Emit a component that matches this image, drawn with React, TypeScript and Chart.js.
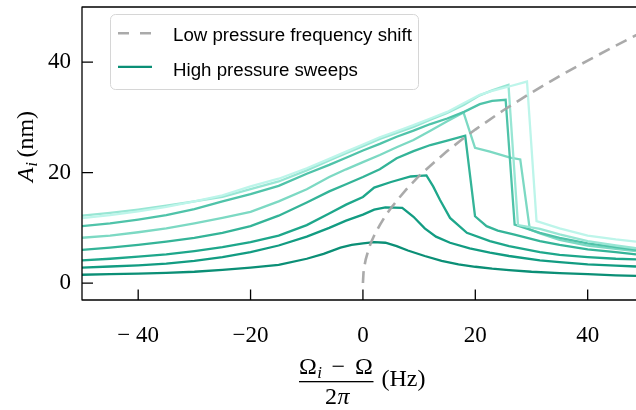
import React, { useEffect, useRef } from 'react';
import { Chart, registerables } from 'chart.js';

Chart.register(...registerables);

// ---- axes ----
const X_MIN = -50;
const X_MAX = 48.6;
const Y_MIN = -3.07;
const Y_MAX = 50;
const X_TICKS = [-40, -20, 0, 20, 40];
const X_TICK_LABELS = ['\u2212 40', '\u221220', '0', '20', '40'];
const Y_TICKS = [0, 20, 40];
const Y_TICK_LABELS = ['0', '20', '40'];

// ---- low pressure frequency shift (dashed) ----
const SHIFT_X = [0, 0.1, 0.25, 0.5, 1, 1.5, 2, 3, 4, 5, 6.5, 8, 10, 12.5, 15, 17.5, 20, 25, 30, 35, 40, 45, 50];
const SHIFT_Y = [0, 1.9, 3.0, 4.3, 6.1, 7.5, 8.6, 10.5, 12.2, 13.6, 15.5, 17.3, 19.4, 21.7, 23.9, 25.9, 27.8, 31.3, 34.5, 37.5, 40.3, 43.0, 45.6];

// ---- high pressure sweeps ----
const SWEEP1_X = [-50, -45, -40, -35, -30, -25, -20, -15, -10, -7, -4, -2, 0, 2, 4, 6, 8, 11, 14, 17, 20, 23, 26, 30, 35, 40, 45, 48.6];
const SWEEP1_Y = [1.5, 1.6, 1.7, 1.85, 2.05, 2.4, 2.8, 3.3, 4.4, 5.3, 6.4, 6.9, 7.2, 7.4, 7.3, 6.7, 5.9, 4.9, 4.0, 3.4, 2.95, 2.6, 2.35, 2.05, 1.8, 1.6, 1.4, 1.3];

const SWEEP2_X = [-50, -45, -40, -35, -30, -25, -20, -15, -10, -6, -3, 0, 2, 4, 7, 9, 11, 13, 15.5, 19, 22.6, 26, 31.5, 35, 40, 45, 48.6];
const SWEEP2_Y = [2.8, 3.0, 3.2, 3.5, 4.0, 4.7, 5.6, 6.8, 8.4, 10.0, 11.3, 12.4, 13.3, 13.7, 13.6, 12.0, 9.9, 8.4, 7.3, 6.3, 5.5, 4.9, 4.1, 3.8, 3.4, 3.15, 3.0];

const SWEEP3_X = [-50, -45, -40, -35, -30, -25, -20, -15, -10, -6, -3, 0, 2, 5, 8.5, 11.3, 12.5, 13.7, 15.5, 18.5, 22.6, 26, 31.5, 35, 40, 45, 48.6];
const SWEEP3_Y = [4.1, 4.4, 4.8, 5.2, 5.8, 6.5, 7.4, 8.6, 10.5, 12.6, 14.2, 15.6, 17.3, 18.3, 19.3, 19.5, 17.5, 15.1, 11.8, 9.1, 7.6, 6.7, 5.6, 5.1, 4.7, 4.4, 4.3];

const SWEEP4_X = [-50, -45, -40, -35, -30, -25, -20, -15, -10, -6, -3, 0, 3, 6, 9, 12, 15, 18.2, 19.95, 22, 24, 26.8, 31.5, 35, 40, 45, 48.6];
const SWEEP4_Y = [6.0, 6.4, 6.9, 7.5, 8.2, 9.1, 10.3, 12.2, 14.6, 16.6, 17.9, 19.2, 20.6, 22.6, 23.9, 25.0, 25.8, 26.7, 12.1, 10.3, 9.5, 8.8, 7.6, 6.9, 6.1, 5.6, 5.2];

const SWEEP5_X = [-50, -45, -40, -35, -30, -25, -20, -15, -10, -6, -3, 0, 3, 6, 9, 12, 15, 17.9, 19.95, 22.6, 26.2, 28, 29.7, 31.5, 35, 40, 45, 48.6];
const SWEEP5_Y = [8.2, 8.6, 9.2, 9.9, 10.8, 11.8, 12.9, 14.8, 17.0, 19.2, 20.6, 21.9, 23.2, 24.6, 25.9, 27.6, 29.3, 30.9, 24.5, 23.8, 22.7, 22.4, 9.7, 9.0, 7.8, 6.8, 6.2, 5.8];

const SWEEP6_X = [-50, -45, -40, -35, -30, -25, -20, -15, -10, -6, -3, 0, 3, 6, 9, 12, 15, 18, 20.8, 23, 25.4, 27.0, 31.5, 35, 40, 45, 48.6];
const SWEEP6_Y = [10.3, 10.8, 11.5, 12.3, 13.4, 14.8, 16.1, 17.6, 19.8, 21.4, 22.7, 24.0, 25.2, 26.5, 27.6, 28.8, 29.8, 31.0, 32.4, 33.0, 33.2, 10.6, 9.1, 8.2, 7.2, 6.5, 6.0];

const SWEEP7_X = [-50, -45, -40, -35, -30, -25, -20, -15, -10, -6, -3, 0, 3, 6, 9, 12, 15, 18, 20.8, 23, 25.9, 27.6, 31.5, 35, 40, 45, 48.6];
const SWEEP7_Y = [12.2, 12.7, 13.3, 14.0, 14.8, 15.6, 17.0, 18.4, 20.4, 22.2, 23.5, 24.8, 26.1, 27.2, 28.3, 29.6, 30.8, 32.3, 34.0, 34.9, 35.9, 10.5, 9.8, 8.8, 7.6, 6.8, 6.3];

const SWEEP8_X = [-50, -45, -40, -35, -30, -25, -20, -15, -10, -6, -3, 0, 3, 6, 9, 12, 15, 18, 20.8, 23, 26, 29.2, 30.9, 35, 40, 45, 48.6];
const SWEEP8_Y = [11.75, 12.3, 13.0, 13.8, 14.8, 15.9, 17.5, 18.9, 20.8, 22.5, 23.8, 25.1, 26.4, 27.5, 28.6, 29.8, 31.0, 32.6, 34.1, 34.8, 35.6, 36.5, 11.2, 9.9, 8.6, 7.9, 7.5];

const SWEEP_COLORS = ['#0b8f76', '#129c82', '#1ea78b', '#34b498', '#7cd9c3', '#4fc3a9', '#98e6d4', '#bdf5ea'];
const SHIFT_COLOR = 'rgba(165,165,165,0.95)';
const LEGEND_LABELS = ['Low pressure frequency shift', 'High pressure sweeps'];

const zip = (xs: number[], ys: number[]) => xs.map((x, i) => ({ x, y: ys[i] }));

const SERIF = '"Liberation Serif", "DejaVu Serif", serif';
const SANS = '"Liberation Sans", Arial, sans-serif';

const decorPlugin = {
  id: 'decor',
  afterDraw(chart: any) {
    const { ctx, chartArea: a, scales } = chart;
    const xs = scales.x;
    const ys = scales.y;
    ctx.save();
    // spines
    ctx.strokeStyle = '#000';
    ctx.lineWidth = 1.3;
    ctx.beginPath();
    ctx.moveTo(a.left, a.top);
    ctx.lineTo(a.right + 2, a.top);
    ctx.moveTo(a.left, a.top - 0.6);
    ctx.lineTo(a.left, a.bottom + 0.6);
    ctx.moveTo(a.left, a.bottom);
    ctx.lineTo(a.right + 2, a.bottom);
    ctx.stroke();
    // inward ticks
    ctx.beginPath();
    X_TICKS.forEach((v) => {
      const px = xs.getPixelForValue(v);
      ctx.moveTo(px, a.bottom);
      ctx.lineTo(px, a.bottom - 10.5);
    });
    Y_TICKS.forEach((v) => {
      const py = ys.getPixelForValue(v);
      ctx.moveTo(a.left, py);
      ctx.lineTo(a.left + 11, py);
    });
    ctx.stroke();

    // legend box
    const bx = 110.5, by = 14.5, bw = 308, bh = 75, r = 5;
    ctx.beginPath();
    ctx.moveTo(bx + r, by);
    ctx.lineTo(bx + bw - r, by);
    ctx.arcTo(bx + bw, by, bx + bw, by + r, r);
    ctx.lineTo(bx + bw, by + bh - r);
    ctx.arcTo(bx + bw, by + bh, bx + bw - r, by + bh, r);
    ctx.lineTo(bx + r, by + bh);
    ctx.arcTo(bx, by + bh, bx, by + bh - r, r);
    ctx.lineTo(bx, by + r);
    ctx.arcTo(bx, by, bx + r, by, r);
    ctx.closePath();
    ctx.fillStyle = 'rgba(255,255,255,0.85)';
    ctx.fill();
    ctx.strokeStyle = '#d6d6d6';
    ctx.lineWidth = 1;
    ctx.stroke();

    // legend handles
    ctx.lineWidth = 2.6;
    ctx.strokeStyle = SHIFT_COLOR;
    ctx.setLineDash([11, 11]);
    ctx.beginPath();
    ctx.moveTo(118, 33.3);
    ctx.lineTo(152, 33.3);
    ctx.stroke();
    ctx.setLineDash([]);
    ctx.strokeStyle = SWEEP_COLORS[0];
    ctx.lineWidth = 2.3;
    ctx.beginPath();
    ctx.moveTo(118, 66.8);
    ctx.lineTo(152, 66.8);
    ctx.stroke();
    ctx.fillStyle = '#000';
    ctx.font = `18.7px ${SANS}`;
    ctx.textAlign = 'left';
    ctx.textBaseline = 'alphabetic';
    ctx.fillText(LEGEND_LABELS[0], 173, 41.3);
    ctx.fillText(LEGEND_LABELS[1], 173, 75.8);

    // y axis title: A_i (nm)
    ctx.save();
    ctx.translate(33, 182);
    ctx.rotate(-Math.PI / 2);
    ctx.font = `italic 24px ${SERIF}`;
    ctx.fillText('A', 0, 0);
    let w = ctx.measureText('A').width;
    ctx.font = `italic 17px ${SERIF}`;
    ctx.fillText('i', w + 0.5, 4);
    w += ctx.measureText('i').width + 5;
    ctx.font = `24px ${SERIF}`;
    ctx.fillText('(nm)', w, 0);
    ctx.restore();

    // x axis title: (Omega_i - Omega) / 2pi  (Hz)
    const nb = 374;
    ctx.font = `24px ${SERIF}`;
    ctx.fillText('\u03A9', 299, nb);
    const ow = ctx.measureText('\u03A9').width;
    ctx.font = `italic 17px ${SERIF}`;
    ctx.fillText('i', 299 + ow + 0.5, nb + 3.5);
    ctx.font = `24px ${SERIF}`;
    ctx.fillText('\u2212', 331.5, nb);
    ctx.fillText('\u03A9', 355, nb);
    ctx.fillRect(299, 381, 74.5, 1.3);
    ctx.fillText('2', 325, 404);
    const tw = ctx.measureText('2').width;
    ctx.font = `italic 24px ${SERIF}`;
    ctx.fillText('\u03C0', 325 + tw + 0.5, 404);
    ctx.font = `24px ${SERIF}`;
    ctx.fillText('(Hz)', 381.5, 386);
    ctx.restore();
  },
};

export default function App() {
  const ref = useRef<HTMLCanvasElement>(null);
  useEffect(() => {
    const sweeps = [
      [SWEEP1_X, SWEEP1_Y],
      [SWEEP2_X, SWEEP2_Y],
      [SWEEP3_X, SWEEP3_Y],
      [SWEEP4_X, SWEEP4_Y],
      [SWEEP5_X, SWEEP5_Y],
      [SWEEP6_X, SWEEP6_Y],
      [SWEEP7_X, SWEEP7_Y],
      [SWEEP8_X, SWEEP8_Y],
    ];
    const datasets: any[] = [
      {
        label: LEGEND_LABELS[0],
        data: zip(SHIFT_X, SHIFT_Y),
        borderColor: SHIFT_COLOR,
        borderWidth: 2.6,
        borderDash: [12, 7],
        pointRadius: 0,
        fill: false,
        tension: 0,
        order: 0,
      },
      ...sweeps.map(([xs, ys], i) => ({
        label: i === 0 ? LEGEND_LABELS[1] : `sweep ${i + 1}`,
        data: zip(xs as number[], ys as number[]),
        borderColor: SWEEP_COLORS[i],
        borderWidth: 2.3,
        pointRadius: 0,
        fill: false,
        tension: 0,
        order: 10 - i,
      })),
    ];
    const chart = new Chart(ref.current as HTMLCanvasElement, {
      type: 'line',
      data: { datasets },
      options: {
        animation: false,
        responsive: false,
        devicePixelRatio: 1,
        events: [],
        layout: { padding: { top: 7, right: 0, bottom: 0, left: 0 } },
        plugins: { legend: { display: false }, tooltip: { enabled: false } },
        scales: {
          x: {
            type: 'linear',
            min: X_MIN,
            max: X_MAX,
            afterBuildTicks: (s: any) => {
              s.ticks = X_TICKS.map((v) => ({ value: v }));
            },
            afterFit: (s: any) => {
              s.height = 110;
              s.paddingLeft = 0;
              s.paddingRight = 0;
            },
            grid: { display: false, drawTicks: false },
            border: { display: false },
            ticks: {
              color: '#000',
              padding: 22,
              maxRotation: 0,
              autoSkip: false,
              font: { family: SERIF, size: 23 },
              callback: (_v: any, i: number) => X_TICK_LABELS[i],
            },
          },
          y: {
            type: 'linear',
            min: Y_MIN,
            max: Y_MAX,
            afterBuildTicks: (s: any) => {
              s.ticks = Y_TICKS.map((v) => ({ value: v }));
            },
            afterFit: (s: any) => {
              s.width = 82;
              s.paddingTop = 0;
              s.paddingBottom = 0;
            },
            grid: { display: false, drawTicks: false },
            border: { display: false },
            ticks: {
              color: '#000',
              padding: 11,
              autoSkip: false,
              font: { family: SERIF, size: 23 },
              callback: (_v: any, i: number) => Y_TICK_LABELS[i],
            },
          },
        },
      },
      plugins: [decorPlugin],
    } as any);
    return () => chart.destroy();
  }, []);
  return (
    <div style={{ position: 'fixed', left: 0, top: 0, width: 636, height: 410, background: '#fff' }}>
      <canvas ref={ref} width={636} height={410} style={{ display: 'block', width: 636, height: 410 }} />
    </div>
  );
}
